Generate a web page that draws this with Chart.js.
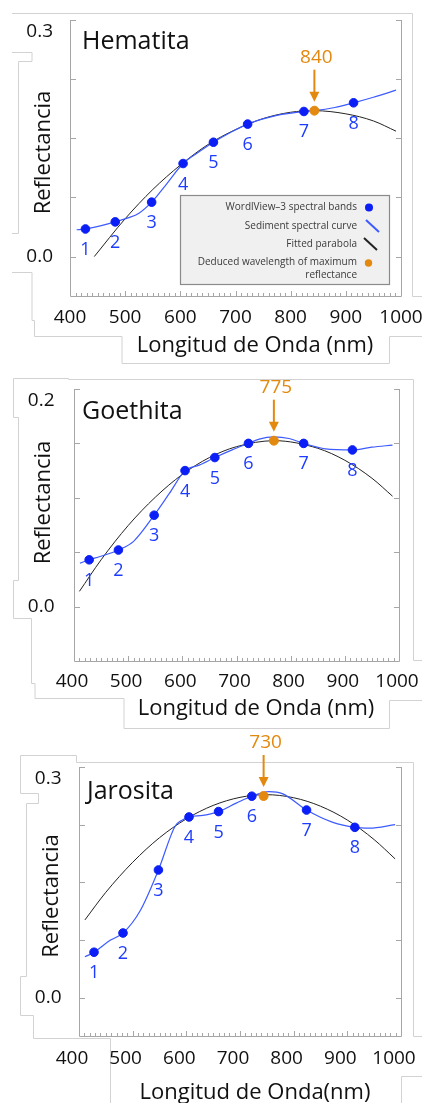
<!DOCTYPE html>
<html>
<head>
<meta charset="utf-8">
<script src="https://cdn.jsdelivr.net/npm/chart.js@4.4.1/dist/chart.umd.min.js"></script>
<style>
  html, body { margin: 0; padding: 0; background: #fff; }
  #page { position: relative; width: 422px; height: 1103px; overflow: hidden; }
  canvas { position: absolute; left: 0; }
</style>
</head>
<body>
<div id="page">
  <canvas id="frames" width="422" height="1103" style="top:0"></canvas>
  <canvas id="hem" style="top:0"></canvas>
  <canvas id="goe" style="top:370px"></canvas>
  <canvas id="jar" style="top:730px"></canvas>
</div>
<script>
// ----------------------------
// Data
// ----------------------------
const bandNm = [428, 482, 548, 605, 660, 722, 824, 914];
const bandNames = ["1", "2", "3", "4", "5", "6", "7", "8"];
const xTicks = [400, 500, 600, 700, 800, 900, 1000];

// Hematita
const hemBands = [0.035, 0.044, 0.069, 0.118, 0.145, 0.168, 0.184, 0.195];
const hemCurveNm = [412, 428, 455, 482, 505, 525, 548, 575, 605, 632, 660, 690, 722, 775, 824, 843, 880, 914, 950, 991];
const hemCurve = [0.034, 0.035, 0.039, 0.044, 0.049, 0.055, 0.069, 0.092, 0.118, 0.132, 0.145, 0.157, 0.168, 0.179, 0.184, 0.185, 0.189, 0.195, 0.202, 0.211];
const hemFitNm = [444, 500, 550, 600, 650, 700, 750, 800, 843, 900, 950, 991];
const hemFit = [0.0, 0.048, 0.085, 0.116, 0.142, 0.161, 0.175, 0.183, 0.185, 0.181, 0.172, 0.159];
const hemPeak = [843, 0.185];
const hemPeakLabel = "840";
const hemYTicks = [0, 0.075, 0.15, 0.225, 0.3];

// Goethita
const goeBands = [0.043, 0.052, 0.084, 0.125, 0.137, 0.150, 0.150, 0.144];
const goeCurveNm = [411, 428, 448, 482, 510, 548, 576, 605, 631, 660, 692, 722, 742, 769, 797, 824, 864, 914, 950, 988];
const goeCurve = [0.040, 0.043, 0.046, 0.052, 0.060, 0.084, 0.104, 0.125, 0.130, 0.137, 0.144, 0.150, 0.154, 0.156, 0.1545, 0.150, 0.145, 0.144, 0.1465, 0.1485];
const goeFitNm = [410, 450, 500, 550, 600, 650, 700, 770, 850, 900, 950, 988];
const goeFit = [0.014, 0.043, 0.0745, 0.1005, 0.1215, 0.137, 0.147, 0.1525, 0.1455, 0.1345, 0.118, 0.1015];
const goePeak = [769, 0.1525];
const goePeakLabel = "775";
const goeYTicks = [0, 0.05, 0.1, 0.15, 0.2];

// Jarosita
const jarBands = [0.059, 0.084, 0.166, 0.235, 0.242, 0.262, 0.244, 0.2215];
const jarCurveNm = [411, 428, 458, 482, 514, 548, 579, 591, 605, 631, 660, 693, 722, 754, 780, 824, 873, 914, 941, 989];
const jarCurve = [0.053, 0.059, 0.0745, 0.084, 0.113, 0.166, 0.223, 0.2305, 0.235, 0.237, 0.242, 0.253, 0.262, 0.268, 0.265, 0.244, 0.228, 0.2215, 0.2205, 0.225];
const jarFitNm = [411, 450, 500, 550, 600, 650, 700, 748, 800, 850, 900, 950, 989];
const jarFit = [0.101, 0.137, 0.176, 0.208, 0.2325, 0.250, 0.2605, 0.264, 0.260, 0.249, 0.231, 0.2055, 0.1805];
const jarPeak = [744, 0.2623];
const jarPeakLabel = "730";
const jarYTicks = [0, 0.075, 0.15, 0.225, 0.3];

// ----------------------------
// Styles
// ----------------------------
const FONT = "'Open Sans', sans-serif";
const BLUE = "#0a1ef5";
const BLUE_TXT = "#1e3cff";
const BLUE_LINE = "#3d5bff";
const ORANGE = "#e3890f";
const AXIS = "#a6a6a6";
const TXT = "#111";

function pts(xs, ys) {
    return xs.map((x, i) => ({ x: x, y: ys[i] }));
}

// ----------------------------
// Light grey outlines of the pasted text boxes
// ----------------------------
const frames = [
    [[12, 13.5], [412.5, 13.5], [412.5, 296.5], [422, 296.5]],
    [[12, 52.5], [32, 52.5], [32, 61.5], [18.5, 61.5], [18.5, 233.5], [12, 233.5]],
    [[12, 272.5], [32, 272.5], [32, 320.5], [34.5, 320.5], [34.5, 336.5], [122, 336.5], [122, 363.5], [389.5, 363.5], [389.5, 336.5], [422, 336.5]],
    [[68.5, 378.5], [13.5, 378.5], [13.5, 417.5], [18.5, 417.5], [18.5, 580.5], [13.5, 580.5], [13.5, 618.5], [31.5, 618.5], [31.5, 683.5], [35, 683.5], [35, 698.5], [124, 698.5], [124, 728.5], [389.5, 728.5], [389.5, 700.5], [422, 700.5]],
    [[68.5, 378.5], [68.5, 379.5], [413.5, 379.5], [413.5, 660.5], [422, 660.5]],
    [[76.5, 762.5], [76.5, 755.5], [20.5, 755.5], [20.5, 793.5], [38.5, 793.5], [38.5, 803.5], [26.5, 803.5], [26.5, 976.5], [20.5, 976.5], [20.5, 1015.5], [33.5, 1015.5], [33.5, 1038.5], [110.5, 1038.5], [110.5, 1103]],
    [[76.5, 762.5], [413.5, 762.5], [413.5, 1036.5], [422, 1036.5]],
    [[401.5, 1103], [401.5, 1076.5], [422, 1076.5]]
];
(function drawFrames() {
    const c = document.getElementById("frames").getContext("2d");
    c.strokeStyle = "#d2d2d2";
    c.lineWidth = 1;
    frames.forEach(f => {
        c.beginPath();
        f.forEach((p, i) => i ? c.lineTo(p[0], p[1]) : c.moveTo(p[0], p[1]));
        c.stroke();
    });
})();

// ----------------------------
// One panel
// ----------------------------
function makePanel(id, p) {
    const canvas = document.getElementById(id);
    canvas.width = 422;
    canvas.height = p.h;

    const decor = {
        id: "decor",
        beforeDatasetsDraw(chart) {
            const c = chart.ctx;
            const a = chart.chartArea;
            const xs = chart.scales.x, ys = chart.scales.y;
            c.save();
            c.strokeStyle = AXIS;
            c.lineWidth = 1;
            c.beginPath();
            c.moveTo(a.left + 0.5, a.top);
            c.lineTo(a.left + 0.5, a.bottom + 0.5);
            c.lineTo(a.right + 0.5, a.bottom + 0.5);
            c.lineTo(a.right + 0.5, a.top);
            // inward ticks on both sides
            p.yTicks.forEach(v => {
                const y = Math.round(ys.getPixelForValue(v)) + 0.5;
                c.moveTo(a.left, y); c.lineTo(a.left + 6, y);
                c.moveTo(a.right - 5, y); c.lineTo(a.right + 1, y);
            });
            for (let v = 400; v <= 1000; v += 10) {
                const x = Math.round(xs.getPixelForValue(v)) + 0.5;
                const len = v % 100 === 0 ? 5 : 3;
                c.moveTo(x, a.bottom); c.lineTo(x, a.bottom - len);
            }
            c.stroke();
            c.restore();
        },
        afterDatasetsDraw(chart) {
            const c = chart.ctx;
            const xs = chart.scales.x, ys = chart.scales.y;
            c.save();

            // band numbers
            c.fillStyle = BLUE_TXT;
            c.font = "18px " + FONT;
            c.textAlign = "center";
            c.textBaseline = "alphabetic";
            bandNm.forEach((nm, i) => {
                c.fillText(bandNames[i], xs.getPixelForValue(nm), ys.getPixelForValue(p.bands[i]) + 26);
            });

            // deduced maximum
            const px = xs.getPixelForValue(p.peak[0]);
            const py = ys.getPixelForValue(p.peak[1]);
            c.strokeStyle = ORANGE;
            c.fillStyle = ORANGE;
            c.lineWidth = 2;
            c.beginPath();
            c.moveTo(px, py - 41);
            c.lineTo(px, py - 18);
            c.stroke();
            c.beginPath();
            c.moveTo(px - 5, py - 19);
            c.lineTo(px + 5, py - 19);
            c.lineTo(px, py - 9);
            c.closePath();
            c.fill();
            c.font = "19px " + FONT;
            c.fillText(p.peakLabel, px + 2, py - 48);

            // panel name and axis titles
            c.fillStyle = TXT;
            c.textAlign = "left";
            c.font = "25px " + FONT;
            c.fillText(p.name, p.nameAt[0], p.nameAt[1]);
            c.textAlign = "center";
            c.font = "22px " + FONT;
            c.fillText(p.xTitle, p.xTitleAt[0], p.xTitleAt[1]);
            c.translate(p.yTitleAt[0], p.yTitleAt[1]);
            c.rotate(-Math.PI / 2);
            c.fillText("Reflectancia", 0, 0);
            c.restore();

            if (p.legend) drawLegend(chart, p.legend);
        }
    };

    return new Chart(canvas, {
        type: "scatter",
        data: {
            datasets: [
                {
                    label: "WordlView\u20133 spectral bands",
                    data: pts(bandNm, p.bands),
                    backgroundColor: BLUE,
                    borderColor: BLUE,
                    pointRadius: 4.3,
                    order: 0
                },
                {
                    label: "Sediment spectral curve",
                    data: pts(p.curveNm, p.curve),
                    showLine: true,
                    borderColor: BLUE_LINE,
                    borderWidth: 1.2,
                    pointRadius: 0,
                    cubicInterpolationMode: "monotone",
                    order: 2
                },
                {
                    label: "Fitted parabola",
                    data: pts(p.fitNm, p.fit),
                    showLine: true,
                    borderColor: "#222",
                    borderWidth: 1,
                    pointRadius: 0,
                    cubicInterpolationMode: "monotone",
                    order: 3
                },
                {
                    label: "Deduced wavelength of maximum reflectance",
                    data: [{ x: p.peak[0], y: p.peak[1] }],
                    backgroundColor: ORANGE,
                    borderColor: ORANGE,
                    pointRadius: 4.5,
                    order: 1
                }
            ]
        },
        options: {
            responsive: false,
            animation: false,
            devicePixelRatio: 1,
            events: [],
            layout: { padding: { left: 0, top: p.area.t, right: 422 - p.area.r, bottom: 0 } },
            plugins: { legend: { display: false }, tooltip: { enabled: false } },
            scales: {
                x: {
                    type: "linear",
                    min: xTicks[0],
                    max: xTicks[xTicks.length - 1],
                    border: { display: false },
                    grid: { display: false, drawTicks: false },
                    afterBuildTicks: s => { s.ticks = xTicks.map(v => ({ value: v })); },
                    ticks: {
                        padding: p.xPad,
                        labelOffset: p.xShift,
                        color: TXT,
                        font: { family: FONT, size: 19 },
                        maxRotation: 0,
                        autoSkip: false,
                        callback: v => String(v)
                    },
                    afterFit: s => {
                        s.height = p.h - p.area.b;
                        s.paddingLeft = 0; s.paddingRight = 0;
                    }
                },
                y: {
                    type: "linear",
                    min: -0.05,
                    max: p.yTicks[p.yTicks.length - 1],
                    border: { display: false },
                    grid: { display: false, drawTicks: false },
                    afterBuildTicks: s => { s.ticks = p.yTicks.map(v => ({ value: v })); },
                    ticks: {
                        padding: p.yPad,
                        color: TXT,
                        font: { family: FONT, size: 19 },
                        callback: (v, i) => {
                            if (i === 0) return "0.0";
                            if (i === p.yTicks.length - 1) return ["", v.toFixed(1)];
                            return "";
                        }
                    },
                    afterFit: s => {
                        s.width = p.area.l;
                        s.paddingTop = 0; s.paddingBottom = 0;
                    }
                }
            }
        },
        plugins: [decor]
    });
}

// ----------------------------
// Legend box (first panel)
// ----------------------------
function drawLegend(chart, L) {
    const c = chart.ctx;
    const ds = chart.data.datasets;
    c.save();
    c.fillStyle = "#f0f0f0";
    c.strokeStyle = "#8a8a8a";
    c.lineWidth = 1.2;
    c.fillRect(L.x, L.y, L.w, L.h);
    c.strokeRect(L.x + 0.5, L.y + 0.5, L.w, L.h);

    c.font = "10px " + FONT;
    c.fillStyle = "#3a3a3a";
    c.textAlign = "right";
    c.textBaseline = "middle";
    const tx = L.x + 177;
    const rows = [L.y + 12.5, L.y + 31, L.y + 49, L.y + 67];
    c.fillText(ds[0].label, tx, rows[0]);
    c.fillText(ds[1].label, tx, rows[1]);
    c.fillText(ds[2].label, tx, rows[2]);
    const words = ds[3].label.split(" ");
    c.fillText(words.slice(0, -1).join(" "), tx, rows[3]);
    c.fillText(words[words.length - 1], tx, rows[3] + 13);

    const sx = L.x + 189;
    c.fillStyle = ds[0].backgroundColor;
    c.beginPath(); c.arc(sx, rows[0], 4, 0, Math.PI * 2); c.fill();
    c.lineWidth = 2;
    c.strokeStyle = ds[1].borderColor;
    c.beginPath(); c.moveTo(sx - 3, rows[1] - 6); c.lineTo(sx + 10, rows[1] + 6); c.stroke();
    c.strokeStyle = ds[2].borderColor;
    c.beginPath(); c.moveTo(sx - 5, rows[2] - 6); c.lineTo(sx + 8, rows[2] + 6); c.stroke();
    c.fillStyle = ds[3].backgroundColor;
    c.beginPath(); c.arc(sx - 0.5, rows[3] + 1, 3.7, 0, Math.PI * 2); c.fill();
    c.restore();
}

// ----------------------------
// The three panels
// ----------------------------
makePanel("hem", {
    h: 370,
    area: { l: 70, r: 401, t: 20, b: 296 },
    xPad: 10, xShift: 0, yPad: 17,
    yTicks: hemYTicks,
    bands: hemBands, curveNm: hemCurveNm, curve: hemCurve,
    fitNm: hemFitNm, fit: hemFit, peak: hemPeak, peakLabel: hemPeakLabel,
    name: "Hematita", nameAt: [82, 48.5],
    xTitle: "Longitud de Onda (nm)", xTitleAt: [255, 351.5],
    yTitleAt: [49.5, 152.5],
    legend: { x: 180, y: 195, w: 209, h: 89 }
});

makePanel("goe", {
    h: 360,
    area: { l: 74, r: 399, t: 19, b: 291 },
    xPad: 9, xShift: -2, yPad: 19.5,
    yTicks: goeYTicks,
    bands: goeBands, curveNm: goeCurveNm, curve: goeCurve,
    fitNm: goeFitNm, fit: goeFit, peak: goePeak, peakLabel: goePeakLabel,
    name: "Goethita", nameAt: [82, 48.5],
    xTitle: "Longitud de Onda (nm)", xTitleAt: [256, 345],
    yTitleAt: [49.5, 132.5]
});

makePanel("jar", {
    h: 373,
    area: { l: 79, r: 401, t: 37, b: 306 },
    xPad: 11, xShift: -7, yPad: 17.5,
    yTicks: jarYTicks,
    bands: jarBands, curveNm: jarCurveNm, curve: jarCurve,
    fitNm: jarFitNm, fit: jarFit, peak: jarPeak, peakLabel: jarPeakLabel,
    name: "Jarosita", nameAt: [87, 68.5],
    xTitle: "Longitud de Onda(nm)", xTitleAt: [255, 369],
    yTitleAt: [57.5, 166]
});
</script>
</body>
</html>
